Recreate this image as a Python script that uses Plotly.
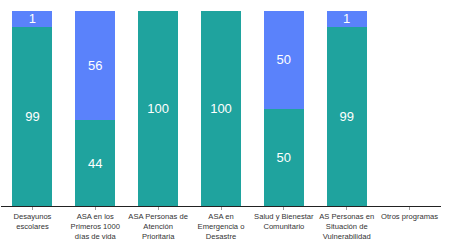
import plotly.graph_objects as go

categories = [
    "Desayunos<br>escolares",
    "ASA en los<br>Primeros 1000<br>días de vida",
    "ASA Personas de<br>Atención<br>Prioritaria",
    "ASA en<br>Emergencia o<br>Desastre",
    "Salud y Bienestar<br>Comunitario",
    "AS Personas en<br>Situación de<br>Vulnerabilidad",
    "Otros programas",
]
# segment heights (small segments appear enlarged)
teal_values = [92, 44, 100, 100, 50, 92, 0]
blue_values = [8, 56, 0, 0, 50, 8, 0]
# labels printed on the bars
teal_labels = ["99", "44", "100", "100", "50", "99", ""]
blue_labels = ["1", "56", "", "", "50", "1", ""]

TEAL = "#1fa39e"
BLUE = "#5a82fb"

fig = go.Figure()
for vals, labels, color in [(teal_values, teal_labels, TEAL), (blue_values, blue_labels, BLUE)]:
    fig.add_trace(go.Bar(
        x=categories, y=vals, text=labels, marker_color=color,
        marker_line_width=0,
        textposition="inside", insidetextanchor="middle", textangle=0,
        constraintext="none",
        textfont=dict(color="white", size=13, family="Liberation Sans, Arial"),
        hoverinfo="skip",
    ))
fig.update_layout(
    barmode="stack", bargap=0.365, showlegend=False,
    width=449, height=244,
    margin=dict(l=0.5, r=7.5, t=11, b=38, autoexpand=False),
    plot_bgcolor="white", paper_bgcolor="white",
    font=dict(family="Liberation Sans, Arial", size=8, color="#333"),
)
fig.update_xaxes(
    automargin=False, tickangle=0,
    showline=True, linecolor="#222", linewidth=1.3,
    ticks="outside", ticklen=3, tickcolor="#999", tickwidth=1,
    tickfont=dict(size=7.6, color="#333"), showgrid=False,
)
fig.update_yaxes(visible=False, range=[0, 100], showgrid=False, automargin=False)
fig.write_html("out.html", config={"displayModeBar": False},
               post_script="document.body.style.margin='0';")
